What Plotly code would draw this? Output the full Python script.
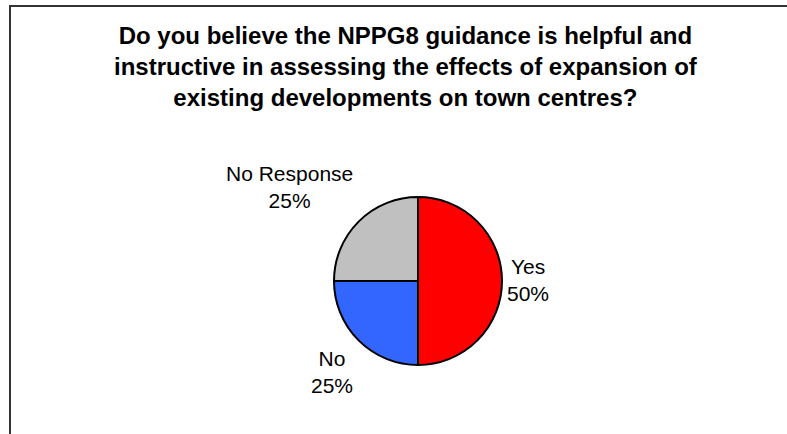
import plotly.graph_objects as go

categories = ["Yes", "No", "No Response"]
values = [50, 25, 25]
colors = ["#FF0000", "#3366FF", "#C0C0C0"]
title_lines = [
    "Do you believe the NPPG8 guidance is helpful and",
    "instructive in assessing the effects of expansion of",
    "existing developments on town centres?",
]

W, H = 787, 434
total = sum(values)
pct = [f"{round(v * 100 / total)}%" for v in values]

fig = go.Figure()
fig.add_trace(go.Pie(
    labels=categories,
    values=values,
    sort=False,
    direction="clockwise",
    rotation=0,
    marker=dict(colors=colors, line=dict(color="#000000", width=2)),
    textinfo="none",
    hoverinfo="label+percent",
    showlegend=False,
    domain=dict(x=[(418 - 84) / W, (418 + 84) / W], y=[(153 - 84) / H, (153 + 84) / H]),
))

font_lbl = dict(family="Liberation Sans, Arial, sans-serif", size=21, color="#000000")
# label centres (pixels from top-left)
label_pos = {"Yes": (528, 280), "No": (332, 372), "No Response": (289, 187)}
for c, p in zip(categories, pct):
    px, py = label_pos[c]
    fig.add_annotation(
        x=px / W, y=1 - py / H, xref="paper", yref="paper",
        text=f"{c}<br>{p}", showarrow=False, font=font_lbl, align="center",
        xanchor="center", yanchor="middle",
    )

fig.add_annotation(
    x=406 / W, y=1 - 66.5 / H, xref="paper", yref="paper",
    text="<br>".join(f"<b>{t}</b>" for t in title_lines),
    showarrow=False, align="center", xanchor="center", yanchor="middle",
    font=dict(family="Liberation Sans, Arial, sans-serif", size=24, color="#000000"),
)

fig.add_shape(
    type="rect", xref="paper", yref="paper",
    x0=10 / W, x1=1.05, y0=-0.05, y1=1 - 6 / H,
    line=dict(color="#333333", width=2), fillcolor="rgba(0,0,0,0)",
)

fig.update_layout(
    width=W, height=H,
    margin=dict(l=0, r=0, t=0, b=0),
    paper_bgcolor="#FFFFFF", plot_bgcolor="#FFFFFF",
)

fig.write_html(
    "out.html",
    config={"displayModeBar": False},
    post_script="document.body.style.margin='0';document.body.style.overflow='hidden';",
)
